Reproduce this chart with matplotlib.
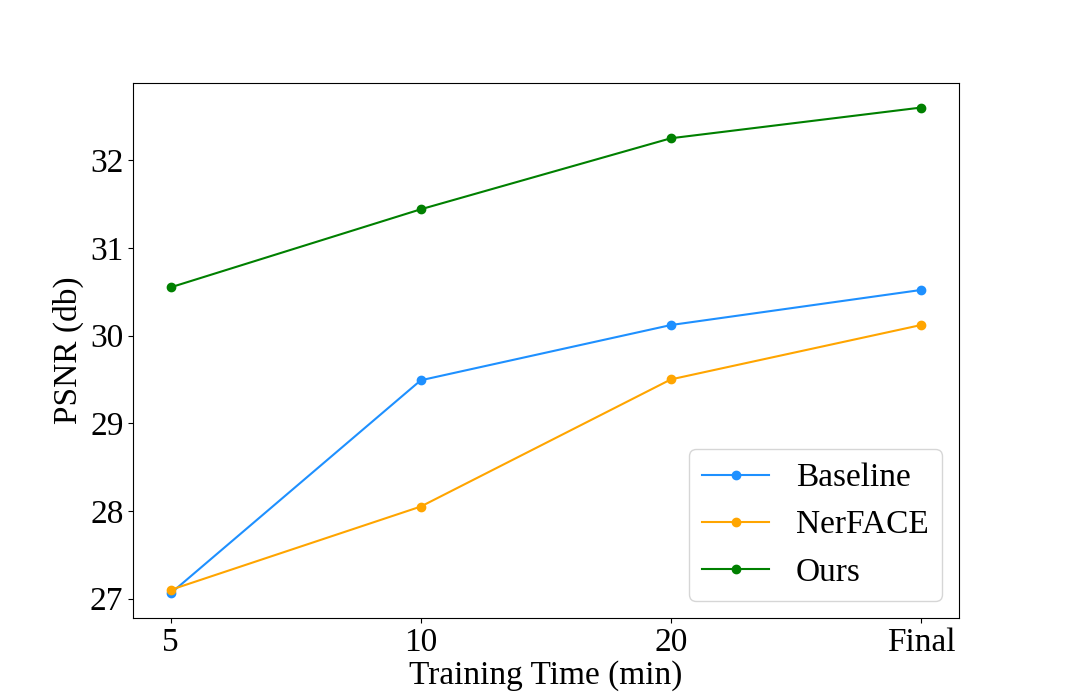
import matplotlib
matplotlib.use("Agg")
import matplotlib.pyplot as plt

plt.rcParams['font.family'] = ['Liberation Serif', 'DejaVu Serif']
plt.rcParams['font.size'] = 24

x_labels = ["5", "10", "20", "Final"]
baseline = [27.06, 29.49, 30.12, 30.52]
nerface = [27.10, 28.05, 29.50, 30.12]
ours = [30.55, 31.44, 32.25, 32.60]

fig, ax = plt.subplots(figsize=(10.65, 6.94), dpi=100)
xs = range(len(x_labels))
ax.plot(xs, baseline, marker='o', color='dodgerblue', label='Baseline')
ax.plot(xs, nerface, marker='o', color='orange', label='NerFACE')
ax.plot(xs, ours, marker='o', color='green', label='Ours')
ax.set_xticks(list(xs))
ax.set_xticklabels(x_labels)
ax.set_xlabel('Training Time (min)', labelpad=2)
ax.set_ylabel('PSNR (db)')
ax.legend(loc='lower right')
fig.savefig('out.png', dpi=100)
